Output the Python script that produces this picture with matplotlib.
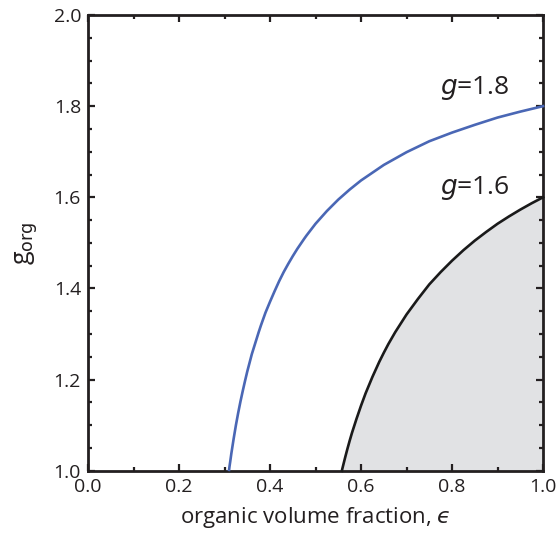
import matplotlib
matplotlib.use("Agg")
import matplotlib.pyplot as plt
from matplotlib.ticker import MultipleLocator

plt.rcParams['font.family'] = ['Open Sans', 'DejaVu Sans']
plt.rcParams['mathtext.fontset'] = 'dejavusans'

# organic volume fraction and g_org along the g = 1.8 contour
eps_18 = [0.310, 0.311, 0.3125, 0.315, 0.320, 0.325, 0.330, 0.335, 0.340,
          0.345, 0.350, 0.355, 0.360, 0.365, 0.375, 0.380, 0.390, 0.400,
          0.410, 0.420, 0.430, 0.440, 0.450, 0.460, 0.475, 0.480, 0.500,
          0.525, 0.550, 0.575, 0.600, 0.625, 0.650, 0.675, 0.700, 0.725,
          0.750, 0.800, 0.850, 0.900, 0.950, 1.000]
gorg_18 = [1.002, 1.010, 1.020, 1.038, 1.070, 1.100, 1.127, 1.152, 1.175,
           1.197, 1.218, 1.237, 1.256, 1.272, 1.304, 1.319, 1.347, 1.371,
           1.394, 1.416, 1.436, 1.454, 1.471, 1.487, 1.509, 1.516, 1.542,
           1.570, 1.595, 1.617, 1.637, 1.654, 1.671, 1.685, 1.699, 1.711,
           1.723, 1.742, 1.759, 1.775, 1.788, 1.800]

# organic volume fraction and g_org along the g = 1.6 contour
eps_16 = [0.558, 0.5585, 0.560, 0.565, 0.570, 0.575, 0.580, 0.590, 0.600,
          0.610, 0.620, 0.625, 0.640, 0.650, 0.660, 0.675, 0.700, 0.725,
          0.750, 0.775, 0.800, 0.825, 0.850, 0.875, 0.900, 0.925, 0.950,
          0.975, 1.000]
gorg_16 = [1.000, 1.003, 1.009, 1.029, 1.048, 1.066, 1.083, 1.114, 1.143,
           1.170, 1.194, 1.206, 1.239, 1.259, 1.278, 1.304, 1.343, 1.377,
           1.409, 1.436, 1.461, 1.484, 1.505, 1.524, 1.542, 1.558, 1.573,
           1.587, 1.600]

x_ticks = [0.0, 0.2, 0.4, 0.6, 0.8, 1.0]
y_ticks = [1.0, 1.2, 1.4, 1.6, 1.8, 2.0]

fig = plt.figure(figsize=(5.57, 5.35), dpi=100)
ax = fig.add_axes([0.158, 0.12, 0.817, 0.852])

ax.fill_between(eps_16, 1.0, gorg_16, color='#e1e2e4', lw=0, zorder=1)
ax.plot(eps_18, gorg_18, color='#4a67b5', lw=1.9, zorder=3, clip_on=False,
        solid_joinstyle='round')
ax.plot(eps_16, gorg_16, color='#1a1a1a', lw=1.9, zorder=3, clip_on=False,
        solid_joinstyle='round')

ax.text(0.927, 1.84, r'$\mathit{g}$=1.8', fontsize=19, ha='right', va='center',
        color='#231f20')
ax.text(0.927, 1.62, r'$\mathit{g}$=1.6', fontsize=19, ha='right', va='center',
        color='#231f20')

ax.set_xlim(0, 1)
ax.set_ylim(1, 2)
ax.set_xticks(x_ticks)
ax.set_yticks(y_ticks)
ax.set_xticklabels([f'{v:.1f}' for v in x_ticks])
ax.set_yticklabels([f'{v:.1f}' for v in y_ticks])
ax.xaxis.set_minor_locator(MultipleLocator(0.1))
ax.yaxis.set_minor_locator(MultipleLocator(0.05))
ax.tick_params(which='both', direction='in', top=True, right=True,
               color='#231f20', labelcolor='#231f20', labelsize=14, pad=5)
ax.tick_params(which='major', length=5, width=1.6)
ax.tick_params(which='minor', length=3, width=1.6)
for s in ax.spines.values():
    s.set_linewidth(2.0)
    s.set_color('#231f20')

ax.set_xlabel('organic volume fraction, $\u03f5$', fontsize=16,
              color='#231f20', labelpad=7)
ax.set_ylabel(r'g$_{\mathrm{org}}$', fontsize=18, color='#231f20', labelpad=10)

fig.savefig('out.png', dpi=100)
